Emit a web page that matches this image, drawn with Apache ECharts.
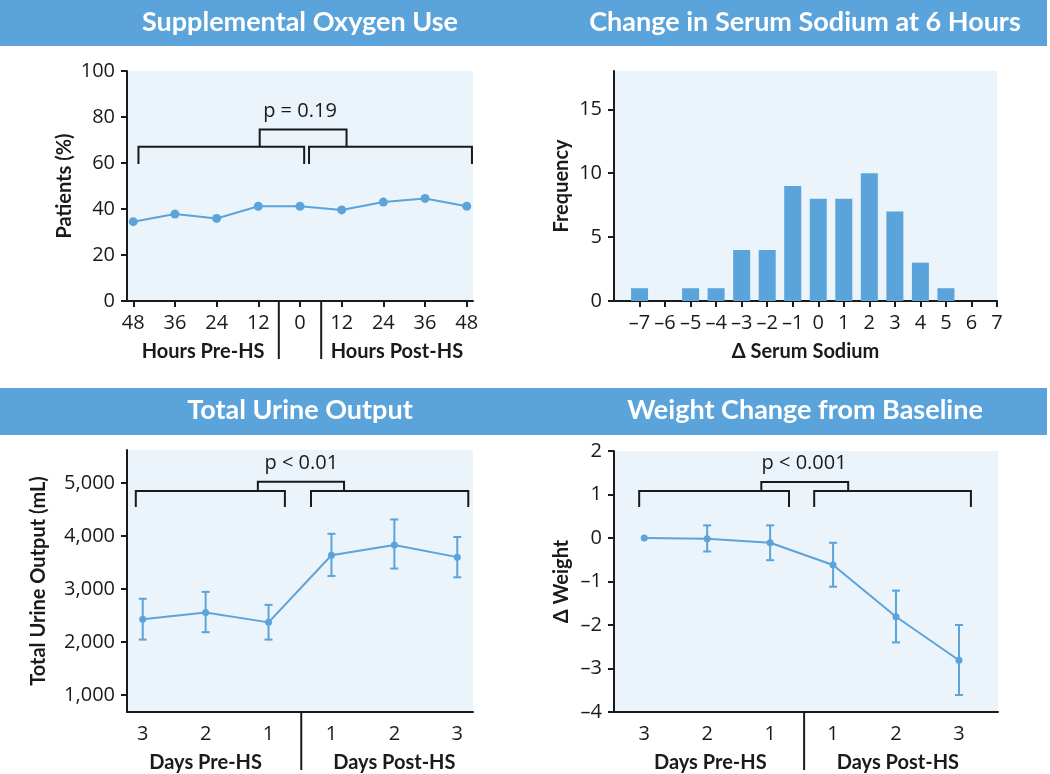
<!DOCTYPE html>
<html><head><meta charset="utf-8">
<script src="https://cdn.jsdelivr.net/npm/echarts@6/dist/echarts.min.js"></script>
<style>html,body{margin:0;padding:0;background:#fff}#c{width:1050px;height:774px}</style>
</head><body><div id="c"></div>
<script>
// ---- data ----
const oxygenHours = [-48, -36, -24, -12, 0, 12, 24, 36, 48];
const oxygenPct = [34.5, 37.8, 35.9, 41.2, 41.2, 39.6, 43.0, 44.6, 41.2];
const sodiumDelta = [-7, -6, -5, -4, -3, -2, -1, 0, 1, 2, 3, 4, 5, 6, 7];
const sodiumFreq = [1, 0, 1, 1, 4, 4, 9, 8, 8, 10, 7, 3, 1, 0, 0];
const dayLabels = ['3', '2', '1', '1', '2', '3'];
const urineMean = [2430, 2555, 2370, 3635, 3830, 3600];
const urineLow = [2045, 2185, 2045, 3245, 3385, 3220];
const urineHigh = [2815, 2945, 2700, 4040, 4310, 3980];
const weightMean = [0, -0.02, -0.11, -0.62, -1.81, -2.81];
const weightLow = [null, -0.31, -0.51, -1.12, -2.40, -3.61];
const weightHigh = [null, 0.29, 0.29, -0.11, -1.21, -2.00];
const oxygenTicks = [0, 20, 40, 60, 80, 100];
const sodiumTicks = [0, 5, 10, 15];
const urineTicks = [1000, 2000, 3000, 4000, 5000];
const weightTicks = [-4, -3, -2, -1, 0, 1, 2];

// ---- styling ----
const BLUE = '#5BA4DB';
const BG = '#EBF3FB';
const INK = '#1a1a1a';
const TICKFONT = '"Open Sans", sans-serif';
const BOLDFONT = 'Lato, sans-serif';
const dash = s => String(s).replace('-', '\u2013');

const chart = echarts.init(document.getElementById('c'), null, {renderer: 'canvas'});

function xAxisBase(gi, min, max, ticks, fmt, showTicks) {
  return {
    type: 'value', gridIndex: gi, min, max, splitLine: {show: false}, position: 'bottom',
    axisLine: {onZero: false, lineStyle: {color: INK, width: 2}},
    axisTick: {show: showTicks, customValues: ticks, length: 6, lineStyle: {color: INK, width: 2}},
    axisLabel: {customValues: ticks, formatter: fmt, color: INK, fontSize: 20, fontFamily: TICKFONT, margin: 12}
  };
}
function yAxisBase(gi, min, max, ticks, fmt, name, gap) {
  return {
    type: 'value', gridIndex: gi, min, max, splitLine: {show: false}, position: 'left',
    axisLine: {show: true, onZero: false, lineStyle: {color: INK, width: 2}},
    axisTick: {show: true, customValues: ticks, length: 6, lineStyle: {color: INK, width: 2}},
    axisLabel: {customValues: ticks, formatter: fmt, color: INK, fontSize: 20, fontFamily: TICKFONT, margin: 12},
    name, nameLocation: 'middle', nameGap: gap,
    nameTextStyle: {color: INK, fontSize: 20, fontWeight: 'bold', fontFamily: BOLDFONT}
  };
}

// annotation: brackets, p label, separators, group labels (all in data coords of the panel)
function annotation(xi, b, seps, groups) {
  return {
    type: 'custom', xAxisIndex: xi, yAxisIndex: xi, clip: false, silent: true, z: 5,
    data: [[b.l[0], b.yH]],
    renderItem: (params, api) => {
      const p = (x, y) => api.coord([x, y]);
      const st = {stroke: INK, lineWidth: 2, fill: null};
      const ch = [];
      ch.push({type: 'polyline', shape: {points: [p(b.l[0], b.yB), p(b.l[0], b.yH), p(b.l[1], b.yH), p(b.l[1], b.yB)]}, style: st});
      ch.push({type: 'polyline', shape: {points: [p(b.r[0], b.yB), p(b.r[0], b.yH), p(b.r[1], b.yH), p(b.r[1], b.yB)]}, style: st});
      ch.push({type: 'polyline', shape: {points: [p(b.t[0], b.yH), p(b.t[0], b.yT), p(b.t[1], b.yT), p(b.t[1], b.yH)]}, style: st});
      const lp = p(b.px, b.py);
      ch.push({type: 'text', x: lp[0], y: lp[1], style: {text: b.label, fill: INK, font: '20px ' + TICKFONT, align: 'center', verticalAlign: 'middle'}});
      const base = p(b.l[0], b.yMin)[1];
      seps.forEach(sx => {
        const x = p(sx, b.yMin)[0];
        ch.push({type: 'line', shape: {x1: x, y1: base, x2: x, y2: base + 58}, style: {stroke: INK, lineWidth: 2}});
      });
      groups.forEach(g => {
        const x = p(g[0], b.yMin)[0];
        ch.push({type: 'text', x: x, y: base + 51, style: {text: g[1], fill: INK, font: 'bold 20px ' + BOLDFONT, align: 'center', verticalAlign: 'middle'}});
      });
      return {type: 'group', children: ch};
    }
  };
}

function errorBars(xi, low, high) {
  const d = [];
  low.forEach((lo, i) => { if (lo !== null) d.push([i, lo, high[i]]); });
  return {
    type: 'custom', xAxisIndex: xi, yAxisIndex: xi, silent: true, z: 3,
    data: d,
    renderItem: (params, api) => {
      const x = api.value(0);
      const a = api.coord([x, api.value(1)]);
      const bb = api.coord([x, api.value(2)]);
      const w = 4;
      const st = {stroke: BLUE, lineWidth: 2};
      return {type: 'group', children: [
        {type: 'line', shape: {x1: a[0], y1: a[1], x2: bb[0], y2: bb[1]}, style: st},
        {type: 'line', shape: {x1: a[0] - w, y1: a[1], x2: a[0] + w, y2: a[1]}, style: st},
        {type: 'line', shape: {x1: bb[0] - w, y1: bb[1], x2: bb[0] + w, y2: bb[1]}, style: st}
      ]};
    }
  };
}

const dayIdx = dayLabels.map((_, i) => i);
const TITLEFONT = 'bold 27px ' + BOLDFONT;
const option = {
  animation: false,
  backgroundColor: '#fff',
  grid: [
    {left: 127, top: 71, width: 346, height: 230, show: true, backgroundColor: BG, borderWidth: 0},
    {left: 614, top: 71, width: 383, height: 230, show: true, backgroundColor: BG, borderWidth: 0},
    {left: 127, top: 450, width: 346, height: 262, show: true, backgroundColor: BG, borderWidth: 0},
    {left: 614, top: 451, width: 384, height: 261, show: true, backgroundColor: BG, borderWidth: 0}
  ],
  xAxis: [
    xAxisBase(0, -49.8, 49.8, oxygenHours, v => String(Math.abs(v)), true),
    xAxisBase(1, -8, 7, sodiumDelta, v => dash(v), true),
    xAxisBase(2, -0.25, 5.25, dayIdx, v => dayLabels[v], false),
    xAxisBase(3, -0.48, 5.62, dayIdx, v => dayLabels[v], false)
  ],
  yAxis: [
    yAxisBase(0, 0, 100, oxygenTicks, v => String(v), 'Patients (%)', 52),
    yAxisBase(1, 0, 18, sodiumTicks, v => String(v), 'Frequency', 42),
    yAxisBase(2, 680, 5620, urineTicks, v => v.toLocaleString('en-US'), 'Total Urine Output (mL)', 78),
    yAxisBase(3, -4, 2, weightTicks, v => dash(v), '\u0394 Weight', 42)
  ],
  graphic: [
    {type: 'rect', shape: {x: 0, y: 0, width: 1047, height: 46}, style: {fill: BLUE}},
    {type: 'rect', shape: {x: 0, y: 388, width: 1047, height: 47}, style: {fill: BLUE}},
    {type: 'text', x: 300, y: 22, style: {text: 'Supplemental Oxygen Use', fill: '#fff', font: TITLEFONT, align: 'center', verticalAlign: 'middle'}},
    {type: 'text', x: 805, y: 22, style: {text: 'Change in Serum Sodium at 6 Hours', fill: '#fff', font: TITLEFONT, align: 'center', verticalAlign: 'middle'}},
    {type: 'text', x: 300, y: 410, style: {text: 'Total Urine Output', fill: '#fff', font: TITLEFONT, align: 'center', verticalAlign: 'middle'}},
    {type: 'text', x: 805, y: 410, style: {text: 'Weight Change from Baseline', fill: '#fff', font: TITLEFONT, align: 'center', verticalAlign: 'middle'}}
  ],
  series: [
    {type: 'line', xAxisIndex: 0, yAxisIndex: 0, data: oxygenHours.map((h, i) => [h, oxygenPct[i]]),
     symbol: 'circle', symbolSize: 9, lineStyle: {color: BLUE, width: 2}, itemStyle: {color: BLUE}, z: 4},
    {type: 'bar', xAxisIndex: 1, yAxisIndex: 1, data: sodiumDelta.map((d, i) => [d, sodiumFreq[i]]),
     barWidth: 17, itemStyle: {color: BLUE}},
    errorBars(2, urineLow, urineHigh),
    {type: 'line', xAxisIndex: 2, yAxisIndex: 2, data: dayIdx.map((d, i) => [d, urineMean[i]]),
     symbol: 'circle', symbolSize: 7, lineStyle: {color: BLUE, width: 2}, itemStyle: {color: BLUE}, z: 4},
    errorBars(3, weightLow, weightHigh),
    {type: 'line', xAxisIndex: 3, yAxisIndex: 3, data: dayIdx.map((d, i) => [d, weightMean[i]]),
     symbol: 'circle', symbolSize: 7, lineStyle: {color: BLUE, width: 2}, itemStyle: {color: BLUE}, z: 4},
    annotation(0, {l: [-46.5, 1.2], r: [2.6, 49.5], t: [-11.6, 13.4], yH: 67.1, yB: 59.6, yT: 74.6,
                   label: 'p = 0.19', px: 0, py: 82.6, yMin: 0}, [-6.1, 6.1], [[-27.9, 'Hours Pre-HS'], [27.9, 'Hours Post-HS']]),
    {type: 'custom', xAxisIndex: 1, yAxisIndex: 1, clip: false, silent: true, data: [[-0.5, 0]],
     renderItem: (params, api) => {
       const c = api.coord([-0.5, 0]);
       return {type: 'text', x: c[0], y: c[1] + 51, style: {text: '\u0394 Serum Sodium', fill: INK, font: 'bold 20px ' + BOLDFONT, align: 'center', verticalAlign: 'middle'}};
     }},
    annotation(2, {l: [-0.11, 2.26], r: [2.675, 5.175], t: [1.83, 3.2], yH: 4849, yB: 4547, yT: 5019,
                   label: 'p < 0.01', px: 2.52, py: 5377, yMin: 680}, [2.52], [[1, 'Days Pre-HS'], [4, 'Days Post-HS']]),
    annotation(3, {l: [-0.08, 2.30], r: [2.70, 5.19], t: [1.86, 3.24], yH: 1.08, yB: 0.71, yT: 1.29,
                   label: 'p < 0.001', px: 2.54, py: 1.72, yMin: -4}, [2.54], [[1.05, 'Days Pre-HS'], [4.03, 'Days Post-HS']])
  ]
};
chart.setOption(option);
</script></body></html>
